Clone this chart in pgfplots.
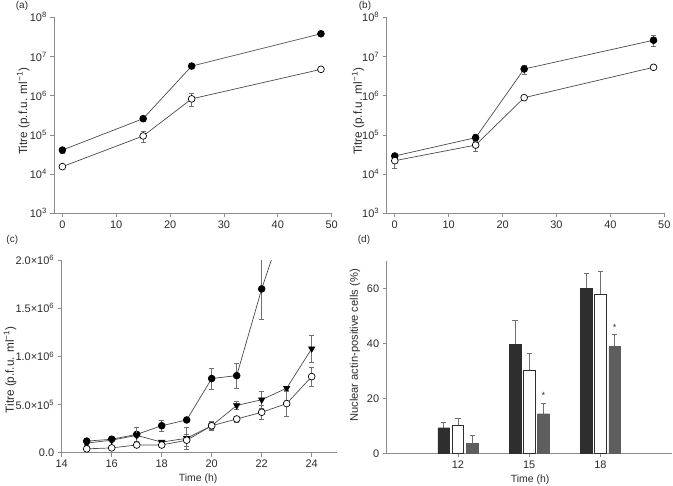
\documentclass[border=0pt]{standalone}
\usepackage{fontspec}
\setmainfont{Liberation Sans}
\usepackage{pgfplots}
\pgfplotsset{compat=1.18}
\definecolor{axgray}{HTML}{8C8C8C}
\definecolor{linegray}{HTML}{4A4A4A}
\definecolor{txt}{HTML}{2B2B2B}
\definecolor{bardark}{HTML}{2E2E2E}
\definecolor{barmid}{HTML}{5E5E5E}
\pgfplotsset{
  myaxis/.style={
    scale only axis,
    axis lines*=left,
    axis line style={axgray, line width=0.8pt},
    tick style={axgray, line width=0.7pt},
    tick align=outside,
    major tick length=4bp,
    tick label style={txt, font=\fontsize{11}{12}\selectfont},
    label style={txt},
    /pgf/number format/assume math mode=true,
    anchor=south west,
  },
  mline/.style={linegray, line width=0.7pt},
  filledc/.style={mline, mark=*, mark size=3.4bp, mark options={fill=black, draw=black, solid}},
  openc/.style={mline, mark=*, mark size=3.4bp, mark options={fill=white, draw=black, solid, line width=0.7pt}},
  filledt/.style={mline, mark=triangle*, mark size=3.6bp, mark options={fill=black, draw=black, solid, rotate=180}},
  eb/.style={error bars/.cd, y dir=both, y explicit,
     error bar style={axgray!80!black, line width=0.7pt},
     error mark options={axgray!80!black, rotate=90, mark size=2.6bp, line width=0.7pt}},
  ebp/.style={draw=none, mark=none, forget plot, error bars/.cd, y dir=plus, y explicit,
     error bar style={axgray!80!black, line width=0.7pt},
     error mark options={axgray!80!black, rotate=90, mark size=2.6bp, line width=0.7pt}},
}
\begin{document}
\begin{tikzpicture}
\path[use as bounding box] (0,0) rectangle (673bp,-486bp);
% (a)
\begin{axis}[myaxis, at={(54.3bp,-213.3bp)}, width=277.4bp, height=196bp,
  xmin=-1.5, xmax=50, ymode=log, ymin=1e3, ymax=1e8, yminorticks=false,
  xtick={0,10,20,30,40,50},
  ytick={1e3,1e4,1e5,1e6,1e7,1e8},
  yticklabels={10\textsuperscript{3},10\textsuperscript{4},10\textsuperscript{5},10\textsuperscript{6},10\textsuperscript{7},10\textsuperscript{8}},
  ylabel={Titre (p.f.u. ml\textsuperscript{−1})},
  ylabel style={font=\fontsize{11.8}{12}\selectfont, at={(axis description cs:-0.112,0.52)}, anchor=center}]
\addplot[filledc, eb] coordinates {
 (0,4.1e4) +- (0,0.8e4)
 (15,2.6e5) +- (0,0.4e5)
 (24,5.7e6) +- (0,0.5e6)
 (48,3.8e7) +- (0,0.3e7)};
\addplot[openc, eb] coordinates {
 (0,1.55e4) +- (0,0.1e4)
 (15,9.4e4) +- (0,2.8e4)
 (24,8.3e5) +- (0,3.0e5)
 (48,4.7e6) +- (0,0.3e6)};
\end{axis}
\node[txt, font=\fontsize{10}{11}\selectfont] at (22bp,-6bp) {(a)};
% (b)
\begin{axis}[myaxis, at={(386.7bp,-213.3bp)}, width=277.6bp, height=196bp,
  xmin=-1.5, xmax=50, ymode=log, ymin=1e3, ymax=1e8, yminorticks=false,
  xtick={0,10,20,30,40,50},
  ytick={1e3,1e4,1e5,1e6,1e7,1e8},
  yticklabels={10\textsuperscript{3},10\textsuperscript{4},10\textsuperscript{5},10\textsuperscript{6},10\textsuperscript{7},10\textsuperscript{8}},
  ylabel={Titre (p.f.u. ml\textsuperscript{−1})},
  ylabel style={font=\fontsize{11.8}{12}\selectfont, at={(axis description cs:-0.103,0.52)}, anchor=center}]
\addplot[filledc, eb] coordinates {
 (0,2.9e4) +- (0,0.3e4)
 (15,8.5e4) +- (0,1.7e4)
 (24,4.8e6) +- (0,1.2e6)
 (48,2.6e7) +- (0,0.8e7)};
\addplot[openc, eb] coordinates {
 (0,2.2e4) +- (0,0.8e4)
 (15,5.5e4) +- (0,1.7e4)
 (24,8.9e5) +- (0,0.5e5)
 (48,5.3e6) +- (0,0.3e6)};
\end{axis}
\node[txt, font=\fontsize{10}{11}\selectfont] at (365bp,-6bp) {(b)};
% (c)
\begin{axis}[myaxis, at={(61.7bp,-452.7bp)}, width=275bp, height=192.7bp,
  xmin=14, xmax=25, ymin=0, ymax=2e6, clip marker paths=true,
  xtick={14,16,18,20,22,24},
  ytick={0,5e5,1e6,1.5e6,2e6}, scaled y ticks=false,
  yticklabels={0.0,5.0×10\textsuperscript{5},1.0×10\textsuperscript{6},1.5×10\textsuperscript{6},2.0×10\textsuperscript{6}},
  ylabel={Titre (p.f.u. ml\textsuperscript{−1})},
  ylabel style={font=\fontsize{11.8}{12}\selectfont, at={(axis description cs:-0.188,0.43)}, anchor=center},
  xlabel={Time (h)},
  xlabel style={font=\fontsize{10.5}{11}\selectfont, at={(axis description cs:0.496,-0.133)}, anchor=center}]
\addplot[filledc, eb] coordinates {
 (15,1.2e5) +- (0,0.3e5)
 (16,1.4e5) +- (0,0.2e5)
 (17,1.9e5) +- (0,0.7e5)
 (18,2.8e5) +- (0,0.6e5)
 (19,3.4e5) +- (0,0.2e5)
 (20,7.7e5) +- (0,1.1e5)
 (21,8.0e5) +- (0,1.3e5)
 (22,1.70e6) +- (0,3.2e5)
 (23,2.48e6) +- (0,0)};
\addplot[filledt, eb] coordinates {
 (15,1.0e5) +- (0,0.2e5)
 (16,1.3e5) +- (0,0.1e5)
 (17,1.8e5) +- (0,0.8e5)
 (18,1.1e5) +- (0,0.2e5)
 (19,1.5e5) +- (0,1.1e5)
 (20,2.8e5) +- (0,0.5e5)
 (21,4.9e5) +- (0,0.4e5)
 (22,5.5e5) +- (0,0.9e5)
 (23,6.7e5) +- (0,0.2e5)
 (24,1.08e6) +- (0,1.4e5)};
\addplot[openc, eb] coordinates {
 (15,0.4e5) +- (0,0.1e5)
 (16,0.5e5) +- (0,0.1e5)
 (17,0.8e5) +- (0,0.1e5)
 (18,0.8e5) +- (0,0.1e5)
 (19,1.3e5) +- (0,0.6e5)
 (20,2.8e5) +- (0,0.4e5)
 (21,3.5e5) +- (0,0.3e5)
 (22,4.2e5) +- (0,0.7e5)
 (23,5.1e5) +- (0,1.3e5)
 (24,7.9e5) +- (0,1.0e5)};
\end{axis}
\node[txt, font=\fontsize{10}{11}\selectfont] at (12.3bp,-240bp) {(c)};
% (d)
\begin{axis}[myaxis, at={(386.7bp,-453.3bp)}, width=285bp, height=192.5bp,
  xmin=9, xmax=21, ymin=0, ymax=70,
  xtick={12,15,18}, ytick={0,20,40,60},
  ylabel={Nuclear actin-positive cells (\%)},
  ylabel style={font=\fontsize{11.2}{12}\selectfont, at={(axis description cs:-0.111,0.56)}, anchor=center},
  xlabel={Time (h)},
  xlabel style={font=\fontsize{10.5}{11}\selectfont, at={(axis description cs:0.503,-0.139)}, anchor=center}]
\addplot[ebp] coordinates {
 (11.4,9.3) +- (0,2.0) (14.4,39.6) +- (0,8.6) (17.4,60.0) +- (0,5.5)};
\addplot[ebp] coordinates {
 (12,10.1) +- (0,2.6) (15,30.2) +- (0,6.2) (18,57.8) +- (0,8.2)};
\addplot[ebp] coordinates {
 (12.6,3.6) +- (0,2.8) (15.6,14.4) +- (0,3.7) (18.6,38.8) +- (0,4.4)};
\addplot[ybar, bar width=0.5, bar shift=-0.6, fill=bardark, draw=bardark] coordinates {
 (12,9.3) (15,39.6) (18,60.0)};
\addplot[ybar, bar width=0.5, bar shift=0, fill=white, draw=bardark, line width=0.8pt] coordinates {
 (12,10.1) (15,30.2) (18,57.8)};
\addplot[ybar, bar width=0.5, bar shift=0.6, fill=barmid, draw=barmid] coordinates {
 (12,3.6) (15,14.4) (18,38.8)};
\node[txt, font=\fontsize{9}{10}\selectfont] at (axis cs:15.6,21.0) {*};
\node[txt, font=\fontsize{9}{10}\selectfont] at (axis cs:18.6,45.8) {*};
\end{axis}
\node[txt, font=\fontsize{10}{11}\selectfont] at (364bp,-240bp) {(d)};
\end{tikzpicture}
\end{document}
